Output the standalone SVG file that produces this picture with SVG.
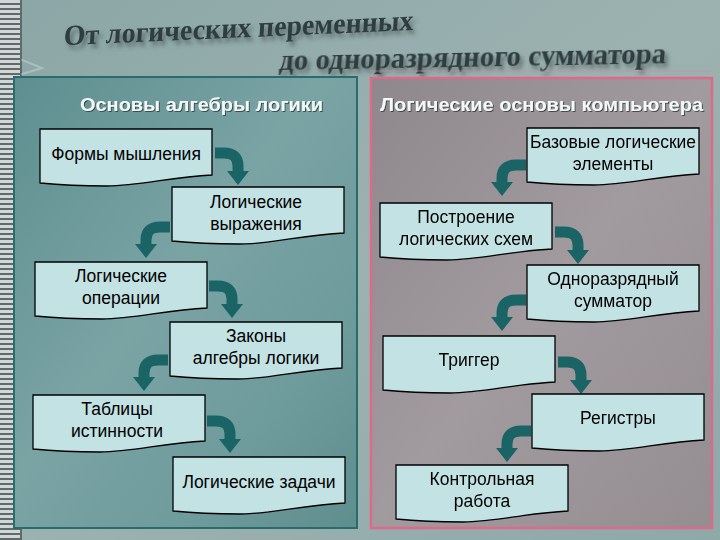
<svg xmlns="http://www.w3.org/2000/svg" xmlns:xlink="http://www.w3.org/1999/xlink" width="720" height="540" viewBox="0 0 720 540">
<defs>
  <linearGradient id="bg" x1="0" y1="0" x2="1" y2="1">
    <stop offset="0" stop-color="#8ba6a6"/>
    <stop offset="0.5" stop-color="#9cb2b1"/>
    <stop offset="1" stop-color="#8fa9a8"/>
  </linearGradient>
  <linearGradient id="leftFill" x1="0" y1="0" x2="1" y2="1">
    <stop offset="0" stop-color="#5e8f90"/>
    <stop offset="0.45" stop-color="#7aa3a4"/>
    <stop offset="0.75" stop-color="#6e9b9c"/>
    <stop offset="1" stop-color="#5f8e8f"/>
  </linearGradient>
  <linearGradient id="rightFill" x1="0" y1="0" x2="1" y2="1">
    <stop offset="0" stop-color="#8e878c"/>
    <stop offset="0.5" stop-color="#a19b9f"/>
    <stop offset="1" stop-color="#948e92"/>
  </linearGradient>
  <pattern id="spiral" x="0" y="0" width="22" height="5" patternUnits="userSpaceOnUse">
    <rect width="22" height="5" fill="#5f6b6b"/>
    <rect x="0" y="0" width="20" height="3" fill="#d2d6d6"/>
  </pattern>
  <filter id="shadow" x="-5%" y="-30%" width="110%" height="160%">
    <feGaussianBlur in="SourceAlpha" stdDeviation="2"/>
    <feOffset dx="3" dy="4" result="b"/>
    <feFlood flood-color="#4a5656" flood-opacity="0.7"/>
    <feComposite in2="b" operator="in"/>
    <feMerge><feMergeNode/><feMergeNode in="SourceGraphic"/></feMerge>
  </filter>
  <filter id="hshadow" x="-5%" y="-30%" width="110%" height="160%">
    <feOffset in="SourceAlpha" dx="1" dy="1" result="o"/>
    <feFlood flood-color="#2a3a3a" flood-opacity="0.8"/>
    <feComposite in2="o" operator="in"/>
    <feMerge><feMergeNode/><feMergeNode in="SourceGraphic"/></feMerge>
  </filter>
  <path id="doc" d="M0,0 H172 V46 C130,48 100,57 67,57 C40,57 20,56 0,54 Z"/>
  <g id="arrR">
    <path d="M0,0 H9 Q23,0 23,13 V19" fill="none" stroke="#1b6466" stroke-width="11"/>
    <polygon points="12,18 34,18 23,32" fill="#1b6466"/>
  </g>
  <g id="arrL">
    <path d="M0,0 H-10 Q-24,0 -24,13 V18" fill="none" stroke="#1b6466" stroke-width="11"/>
    <polygon points="-35,17 -13,17 -24,31" fill="#1b6466"/>
  </g>
</defs>
<style>
  .node use { fill: #c3e2e4; stroke: #000; stroke-width: 1.3; }
  .node text { font-family: "Liberation Sans", Arial, sans-serif; font-size: 17.5px; fill: #000; text-anchor: middle; }
  .hdr { font-family: "Liberation Sans", Arial, sans-serif; font-size: 19px; font-weight: bold; fill: #f4f8f8; }
  .title { font-family: "Liberation Serif", "Times New Roman", serif; font-size: 29px; font-weight: bold; fill: #2f3d3f; }
  .streak { fill: none; stroke: #e8f2f2; stroke-opacity: 0.3; stroke-width: 2; stroke-linecap: round; }
</style>

<!-- background -->
<rect width="720" height="540" fill="url(#bg)"/>
<rect x="0" y="0" width="22" height="540" fill="url(#spiral)"/>
<g class="streak">
  <path d="M22,60 L42,68 L22,74 M22,150 L36,158 L22,164 M22,250 L38,258 L22,264 M22,350 L36,358 L22,364 M22,450 L38,458 L22,464"/>
</g>

<!-- title -->
<g filter="url(#shadow)">
  <text class="title" x="68" y="45" transform="rotate(-2.5 68 45) skewX(-6)" textLength="350" lengthAdjust="spacingAndGlyphs">От логических переменных</text>
  <text class="title" x="286" y="70" transform="rotate(-1 286 70) skewX(-6)" textLength="387" lengthAdjust="spacingAndGlyphs">до одноразрядного сумматора</text>
</g>

<!-- panels -->
<rect x="14" y="77" width="343" height="451" fill="url(#leftFill)" stroke="#2a6b6c" stroke-width="2"/>
<line x1="370" y1="71" x2="712" y2="71" stroke="#d88aa0" stroke-opacity="0.6" stroke-width="1"/>
<rect x="371" y="78" width="341" height="450" fill="url(#rightFill)" stroke="#de6a88" stroke-width="2.5"/>

<text class="hdr" x="80" y="111" textLength="243" lengthAdjust="spacingAndGlyphs" filter="url(#hshadow)">Основы алгебры логики</text>
<text class="hdr" x="380" y="111" textLength="323" lengthAdjust="spacingAndGlyphs" filter="url(#hshadow)">Логические основы компьютера</text>

<!-- connectors -->
<g id="connectors">
  <use xlink:href="#arrR" x="215" y="153"/>
  <use xlink:href="#arrL" x="170" y="227"/>
  <use xlink:href="#arrR" x="209" y="286"/>
  <use xlink:href="#arrL" x="168" y="360"/>
  <use xlink:href="#arrR" x="207" y="421"/>
  <use xlink:href="#arrL" x="526" y="165"/>
  <use xlink:href="#arrR" x="555" y="232"/>
  <use xlink:href="#arrL" x="526" y="300"/>
  <use xlink:href="#arrR" x="558" y="362"/>
  <use xlink:href="#arrL" x="531" y="431"/>
</g>

<!-- left nodes -->
<g id="n-formy" class="node"><use xlink:href="#doc" x="40" y="129"/><text x="126" y="160">Формы мышления</text></g>
<g id="n-vyrazh" class="node"><use xlink:href="#doc" x="172" y="187"/><text x="256" y="208">Логические</text><text x="256" y="230">выражения</text></g>
<g id="n-oper" class="node"><use xlink:href="#doc" x="35" y="262"/><text x="121" y="282">Логические</text><text x="121" y="304">операции</text></g>
<g id="n-zakony" class="node"><use xlink:href="#doc" x="170" y="322"/><text x="256" y="342">Законы</text><text x="256" y="364">алгебры логики</text></g>
<g id="n-tablicy" class="node"><use xlink:href="#doc" x="33" y="395"/><text x="117" y="415">Таблицы</text><text x="117" y="437">истинности</text></g>
<g id="n-zadachi" class="node"><use xlink:href="#doc" x="173" y="457"/><text x="259" y="488">Логические задачи</text></g>

<!-- right nodes -->
<g id="n-bazovye" class="node"><use xlink:href="#doc" x="527" y="128"/><text x="613" y="148">Базовые логические</text><text x="613" y="170">элементы</text></g>
<g id="n-postroenie" class="node"><use xlink:href="#doc" x="380" y="203"/><text x="466" y="223">Построение</text><text x="466" y="245">логических схем</text></g>
<g id="n-summator" class="node"><use xlink:href="#doc" x="527" y="265"/><text x="613" y="285">Одноразрядный</text><text x="613" y="307">сумматор</text></g>
<g id="n-trigger" class="node"><use xlink:href="#doc" x="383" y="336"/><text x="469" y="366">Триггер</text></g>
<g id="n-registry" class="node"><use xlink:href="#doc" x="532" y="394"/><text x="618" y="424">Регистры</text></g>
<g id="n-kontrol" class="node"><use xlink:href="#doc" x="396" y="465"/><text x="482" y="485">Контрольная</text><text x="482" y="507">работа</text></g>
</svg>
